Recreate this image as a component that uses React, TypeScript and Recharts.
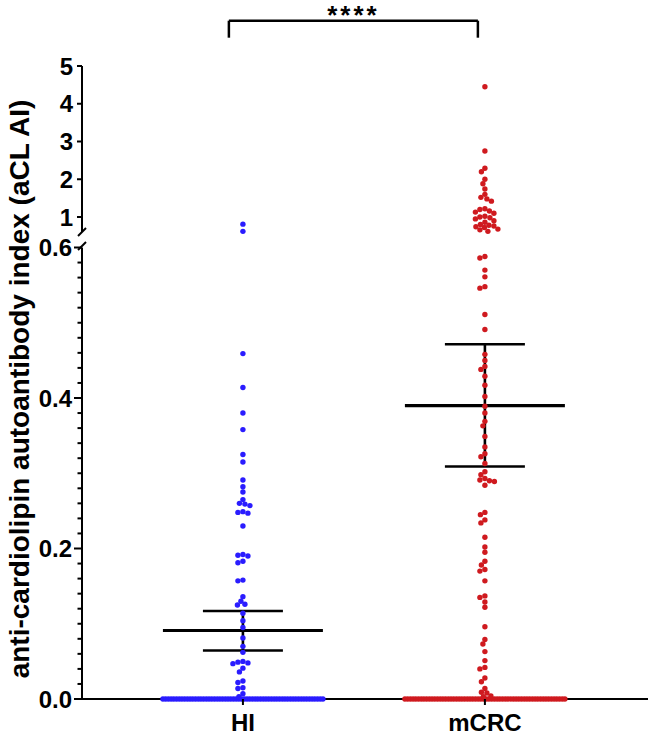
import React from 'react';
import { ScatterChart, Scatter, XAxis, YAxis, ReferenceLine } from 'recharts';

const groups = ['HI', 'mCRC'];
const groupX = [1, 2];

// values, lower segment (0 - 0.6), non-zero
const hiLow = [
  0.459, 0.414, 0.38, 0.358, 0.325, 0.315, 0.291, 0.282, 0.275, 0.265, 0.26, 0.259, 0.257, 0.249, 0.248,
  0.247, 0.23, 0.192, 0.191, 0.19, 0.183, 0.181, 0.158, 0.157, 0.136, 0.13, 0.126, 0.125, 0.114, 0.104,
  0.095, 0.081, 0.07, 0.062, 0.05, 0.049, 0.048, 0.047, 0.041, 0.036, 0.024, 0.022, 0.015, 0.014, 0.007,
  0.003,
];
const hiHigh = [0.81, 0.62];
const hiZeroCount = 60;

const mcrcLow = [
  0.588, 0.586, 0.57, 0.561, 0.548, 0.546, 0.511, 0.491, 0.458, 0.45, 0.442, 0.438, 0.429, 0.417, 0.402,
  0.389, 0.38, 0.369, 0.363, 0.349, 0.335, 0.326, 0.322, 0.313, 0.302, 0.298, 0.293, 0.291, 0.29, 0.289,
  0.284, 0.248, 0.245, 0.238, 0.234, 0.215, 0.202, 0.195, 0.183, 0.178, 0.172, 0.17, 0.157, 0.137, 0.135,
  0.129, 0.122, 0.096, 0.079, 0.073, 0.063, 0.051, 0.042, 0.04, 0.028, 0.023, 0.014, 0.009, 0.008, 0.004,
  0.003,
];
const mcrcHigh = [
  4.45, 2.75, 2.29, 2.2, 2.0, 1.88, 1.74, 1.6, 1.52, 1.48, 1.42, 1.22, 1.2, 1.16, 1.13, 1.1, 1.02, 1.0,
  0.98, 0.95, 0.9, 0.86, 0.8, 0.78, 0.76, 0.74, 0.72, 0.68, 0.66, 0.62,
];
const mcrcZeroCount = 60;

// mean and error bars
const means = [0.091, 0.39];
const errLow = [0.0645, 0.309];
const errHigh = [0.117, 0.4715];

const lowTicks = [0, 0.2, 0.4, 0.6];
const highTicks = [1, 2, 3, 4, 5];
const yTitle = 'anti-cardiolipin autoantibody index (aCL AI)';
const signif = '****';

const BLUE = '#2a1cff';
const RED = '#cf1a1f';
const FONT = '"Liberation Sans", Arial, sans-serif';

const X_DOMAIN = [0.335, 2.674];
const PX_PER_X = 242;
const LOW_PX = 752.5;
const HIGH_PX = 37.75;
const DOT_R = 2.7;
const ROW_HALF = 80;

// simple beeswarm: push each dot sideways until it no longer overlaps
function swarm(values: number[], pxPerUnit: number) {
  const placed: { y: number; dx: number }[] = [];
  const d2 = (DOT_R * 2) ** 2 * 0.8;
  return values.map((v) => {
    const y = v * pxPerUnit;
    for (let k = 0; k < 400; k++) {
      const dx = (k % 2 === 0 ? 1 : -1) * Math.ceil(k / 2) * 0.5;
      if (placed.every((p) => (p.dx - dx) ** 2 + (p.y - y) ** 2 >= d2)) {
        placed.push({ y, dx });
        return dx;
      }
    }
    return 0;
  });
}

const toPoints = (vals: number[], gx: number, pxPerUnit: number) =>
  swarm(vals, pxPerUnit).map((dx, i) => ({ x: gx + dx / PX_PER_X, y: vals[i] }));

const zeroRow = (n: number, gx: number) =>
  Array.from({ length: n }, (_, i) => ({ x: gx + (-ROW_HALF + (2 * ROW_HALF * i) / (n - 1)) / PX_PER_X, y: 0 }));

const hiLowPts = [...zeroRow(hiZeroCount, groupX[0]), ...toPoints(hiLow, groupX[0], LOW_PX)];
const mcrcLowPts = [...zeroRow(mcrcZeroCount, groupX[1]), ...toPoints(mcrcLow, groupX[1], LOW_PX)];
const hiHighPts = toPoints(hiHigh, groupX[0], HIGH_PX);
const mcrcHighPts = toPoints(mcrcHigh, groupX[1], HIGH_PX);

const minorTicks: number[] = [];
for (let i = 1; i < 30; i++) if (i % 10 !== 0) minorTicks.push(i / 50);
const allLowTicks = [...lowTicks, ...minorTicks].sort((a, b) => a - b);

const dot = (color: string) => (props: any) =>
  <circle cx={props.cx} cy={props.cy} r={DOT_R} fill={color} />;

const LowTick = (props: any) => {
  const { x, y, payload } = props;
  const ax = x + 10;
  const major = lowTicks.some((t) => Math.abs(t - payload.value) < 1e-6);
  return (
    <g>
      <line x1={major ? ax - 8 : ax - 4.5} x2={ax} y1={y} y2={y} stroke="#000" strokeWidth={2} />
      {major && (
        <text x={x} y={y} dy="0.36em" textAnchor="end" fontFamily={FONT} fontWeight="bold" fontSize={24} fill="#000">
          {payload.value.toFixed(1)}
        </text>
      )}
    </g>
  );
};

const HighTick = (props: any) => {
  const { x, y, payload } = props;
  const ax = x + 9;
  return (
    <g>
      <line x1={ax - 5} x2={ax} y1={y} y2={y} stroke="#000" strokeWidth={2} />
      <text x={x} y={y} dy="0.36em" textAnchor="end" fontFamily={FONT} fontWeight="bold" fontSize={24} fill="#000">
        {payload.value}
      </text>
    </g>
  );
};

const XTick = (props: any) => {
  const { x, y, payload } = props;
  const ay = y - 14;
  const idx = groupX.indexOf(payload.value);
  return (
    <g>
      <line x1={x} x2={x} y1={ay} y2={ay + 6} stroke="#000" strokeWidth={2} />
      <text x={x} y={ay + 32} textAnchor="middle" fontFamily={FONT} fontWeight="bold" fontSize={24} fill="#000">
        {groups[idx]}
      </text>
    </g>
  );
};

const YTitle = () => (
  <text
    x={19}
    y={389}
    transform="rotate(-90, 19, 389)"
    textAnchor="middle"
    dy="0.36em"
    fontFamily={FONT}
    fontWeight="bold"
    fontSize={28}
    fill="#000"
  >
    {yTitle}
  </text>
);

const MEAN_HALF = 80 / PX_PER_X;
const WHISK_HALF = 40 / PX_PER_X;

const errorBars = groupX.flatMap((gx, i) => [
  <ReferenceLine key={`m${i}`} segment={[{ x: gx - MEAN_HALF, y: means[i] }, { x: gx + MEAN_HALF, y: means[i] }]} stroke="#000" strokeWidth={3.2} ifOverflow="visible" />,
  <ReferenceLine key={`h${i}`} segment={[{ x: gx - WHISK_HALF, y: errHigh[i] }, { x: gx + WHISK_HALF, y: errHigh[i] }]} stroke="#000" strokeWidth={2.6} ifOverflow="visible" />,
  <ReferenceLine key={`l${i}`} segment={[{ x: gx - WHISK_HALF, y: errLow[i] }, { x: gx + WHISK_HALF, y: errLow[i] }]} stroke="#000" strokeWidth={2.6} ifOverflow="visible" />,
  <ReferenceLine key={`v${i}`} segment={[{ x: gx, y: errLow[i] }, { x: gx, y: errHigh[i] }]} stroke="#000" strokeWidth={2.6} ifOverflow="visible" />,
]);

const abs: React.CSSProperties = { position: 'absolute', left: 0, top: 0 };

export default function App() {
  return (
    <div style={{ ...abs, width: 650, height: 737, background: '#fff' }}>
      <div style={abs}>
        <ScatterChart width={650} height={737} margin={{ top: 247.5, right: 2, bottom: 0, left: 0 }}>
          <XAxis
            type="number"
            dataKey="x"
            domain={X_DOMAIN}
            ticks={groupX}
            height={38}
            tickSize={6}
            tickMargin={8}
            tickLine={false}
            tick={XTick}
            axisLine={{ stroke: '#000', strokeWidth: 2 }}
          />
          <YAxis
            type="number"
            dataKey="y"
            domain={[0, 0.6]}
            ticks={allLowTicks}
            interval={0}
            width={82}
            tickSize={8}
            tickMargin={2}
            tickLine={false}
            tick={LowTick}
            axisLine={{ stroke: '#000', strokeWidth: 2 }}
            label={<YTitle />}
          />
          <Scatter data={hiLowPts} shape={dot(BLUE)} isAnimationActive={false} />
          <Scatter data={mcrcLowPts} shape={dot(RED)} isAnimationActive={false} />
          {errorBars}
        </ScatterChart>
      </div>
      <div style={abs}>
        <ScatterChart width={650} height={737} margin={{ top: 66, right: 2, bottom: 504.9, left: 0 }}>
          <XAxis type="number" dataKey="x" domain={X_DOMAIN} hide />
          <YAxis
            type="number"
            dataKey="y"
            domain={[0.6, 5]}
            ticks={highTicks}
            interval={0}
            width={82}
            tickSize={5}
            tickMargin={4}
            tickLine={false}
            tick={HighTick}
            axisLine={{ stroke: '#000', strokeWidth: 2 }}
          />
          <Scatter data={hiHighPts} shape={dot(BLUE)} isAnimationActive={false} />
          <Scatter data={mcrcHighPts} shape={dot(RED)} isAnimationActive={false} />
          <ReferenceLine
            segment={[{ x: 0.942, y: 6.2 }, { x: 1.971, y: 6.2 }]}
            stroke="#000"
            strokeWidth={2.5}
            ifOverflow="visible"
            label={{ value: signif, position: 'top', offset: -3, fill: '#000', fontSize: 26, fontWeight: 'bold', fontFamily: FONT, letterSpacing: 3 }}
          />
          <ReferenceLine segment={[{ x: 0.942, y: 6.2 }, { x: 0.942, y: 5.75 }]} stroke="#000" strokeWidth={2.5} ifOverflow="visible" />
          <ReferenceLine segment={[{ x: 1.971, y: 6.2 }, { x: 1.971, y: 5.75 }]} stroke="#000" strokeWidth={2.5} ifOverflow="visible" />
        </ScatterChart>
      </div>
      <svg style={abs} width={650} height={737}>
        <line x1={78} y1={236} x2={86} y2={228} stroke="#000" strokeWidth={2} />
        <line x1={78} y1={250} x2={86} y2={242} stroke="#000" strokeWidth={2} />
      </svg>
    </div>
  );
}
